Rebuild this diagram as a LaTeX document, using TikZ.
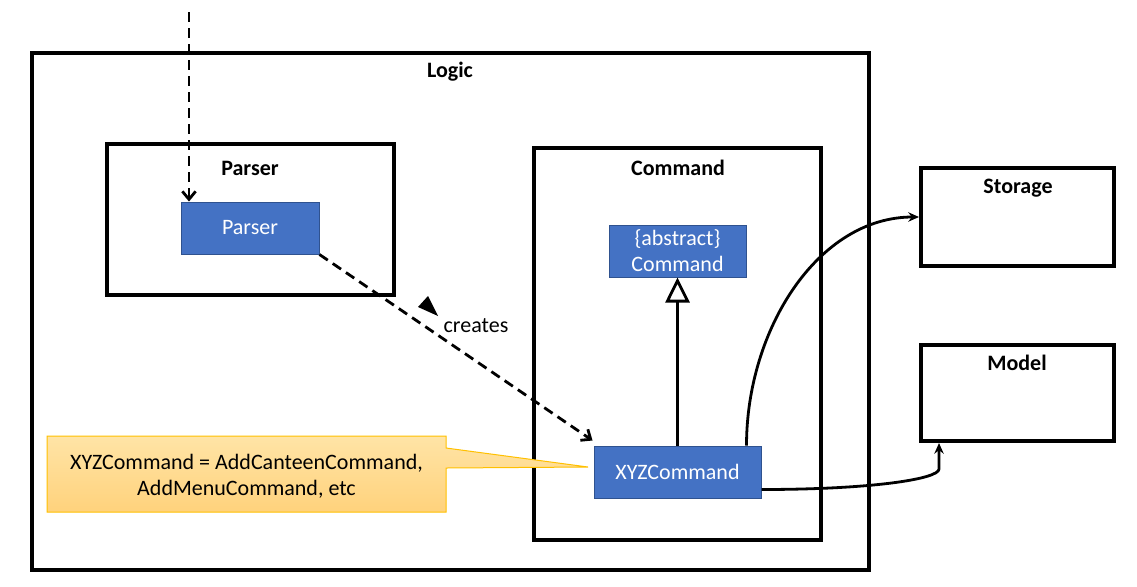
\documentclass[tikz,border=0pt]{standalone}
\usepackage{fontspec}
\setmainfont{Carlito}
\usetikzlibrary{arrows.meta,calc}
\definecolor{clsblue}{HTML}{4472C4}
\definecolor{clsborder}{HTML}{2F528F}
\definecolor{noteborder}{HTML}{FFC000}
\definecolor{notetop}{HTML}{FFE4A6}
\definecolor{notebot}{HTML}{FFD27C}
\tikzset{
  frame/.style={draw, line width=3pt, inner sep=0pt},
  cls/.style={fill=clsblue, draw=clsborder, line width=0.75pt, text=white, inner sep=0pt, align=center, font=\fontsize{16.5}{19.5}\selectfont},
  title/.style={font=\bfseries\fontsize{16.5}{19.5}\selectfont, inner sep=0pt},
  plain/.style={font=\fontsize{16.5}{19.5}\selectfont, inner sep=0pt, align=center},
  conn/.style={line width=2.1pt},
  dashconn/.style={conn, dash pattern=on 7.5pt off 4.5pt},
  barb/.style={-{Straight Barb[length=6pt,width=10pt]}},
  solidtip/.style={-{Stealth[length=8pt,width=7pt]}}
}
\begin{document}
\begin{tikzpicture}[x=0.75pt,y=-0.75pt]
\useasboundingbox (0,0) rectangle (1137,586);
% frames
\node[frame, minimum width=627.75pt, minimum height=387.75pt] (logic) at (450.5,311.5) {};
\node[frame, minimum width=215.25pt, minimum height=113.25pt] (parserbox) at (250.5,219.5) {};
\node[frame, minimum width=215.25pt, minimum height=294pt] (cmdbox) at (677.5,344) {};
\node[frame, minimum width=144.75pt, minimum height=73.5pt] (storage) at (1017.5,217) {};
\node[frame, minimum width=144.75pt, minimum height=72pt] (model) at (1017.5,393) {};
% titles
\node[title] (logict) at (450,72) {Logic};
\node[title] (parsert) at (250,168) {Parser};
\node[title] (cmdt) at (678,168) {Command};
\node[title] (storaget) at (1018,188) {Storage};
\node[title] (modelt) at (1017,363) {Model};
% classes
\node[cls, minimum width=103.5pt, minimum height=39pt] (parser) at (250,228) {Parser};
\node[cls, minimum width=102.75pt, minimum height=39pt] (abstract) at (677.5,251) {\{abstract\}\\Command};
\node[cls, minimum width=125.25pt, minimum height=39pt] (xyz) at (677.5,472) {XYZCommand};
% callout
\path[draw=noteborder, line width=0.75pt, top color=notetop, bottom color=notebot]
  (47,436) -- (446,436) -- (446,448) -- (588,467) -- (446,468) -- (446,512) -- (47,512) -- cycle;
\node[plain] (note) at (246.5,476) {XYZCommand = AddCanteenCommand,\\AddMenuCommand, etc};
% connectors
\coordinate (src) at (189,12);
\draw[dashconn, barb] (src) -- (src |- parser.north);
\draw[dashconn, barb] (parser.south east) -- ($(xyz.north west)+(-1,-5)$);
\fill (428,296) -- (418,307) -- (438,316) -- cycle;
\node[plain] (creates) at (476,326) {creates};
\draw[conn, -{Triangle[open,length=18.75pt,width=18pt,fill=white]}] (xyz.north) -- (abstract.south);
\draw[conn, solidtip] ($(xyz.north east)+(-15,0)$) .. controls +(0,-116) and +(-101,0) .. (storage.west);
\coordinate (mbend) at ($(model.south west)+(20,26)$);
\draw[conn, solidtip] ($(xyz.south east)+(0,-9)$) .. controls +(110,0) and +(0,10) .. (mbend) -- (mbend |- model.south);
\end{tikzpicture}
\end{document}
